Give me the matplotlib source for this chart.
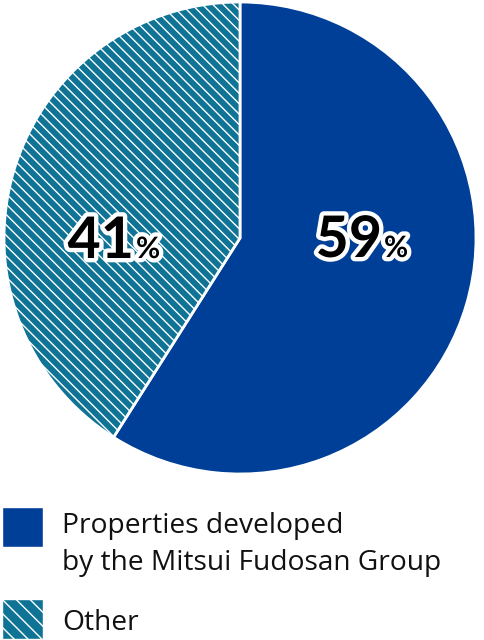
import matplotlib
matplotlib.use("Agg")
import matplotlib.pyplot as plt
import matplotlib.patheffects as pe
from matplotlib.patches import Rectangle

# data
labels = ["Properties developed\nby the Mitsui Fudosan Group", "Other"]
shares = [59, 41]
colors = ["#003f98", "#0f7396"]

plt.rcParams['hatch.linewidth'] = 0.8

DPI = 125
W, H = 484, 640
fig = plt.figure(figsize=(W / DPI, H / DPI), dpi=DPI)
ax = fig.add_axes([0, 0, 1, 1])


def Y(y):
    # pixel row (from top) -> data y
    return H - y


wedges, _ = ax.pie(shares, colors=colors, startangle=90, counterclock=False,
                   center=(240, Y(238)), radius=236,
                   wedgeprops=dict(edgecolor="white", linewidth=1.6))
wedges[1].set_hatch("\\\\\\\\")

ax.set_xlim(0, W)
ax.set_ylim(0, H)
ax.set_aspect("equal")
ax.axis("off")

# percentage labels
outline = [pe.withStroke(linewidth=5, foreground="white")]
num_pos = [(382, 257), (134, 258)]
for v, (x, y) in zip(shares, num_pos):
    ax.text(x, Y(y), str(v), ha="right", va="baseline", fontsize=33,
            family="Lato", fontweight="bold", color="black", path_effects=outline)
    ax.text(x + 2, Y(y), "%", ha="left", va="baseline", fontsize=17,
            family="Lato", fontweight="bold", color="black", path_effects=outline)

# legend
box_y = [507, 599]
for i, (lab, c) in enumerate(zip(labels, colors)):
    r = Rectangle((2, Y(box_y[i] + 40)), 41, 40, facecolor=c,
                  edgecolor="white", linewidth=0.8,
                  hatch="\\\\\\" if i == 1 else None)
    ax.add_patch(r)
text_lines = [(533, "Properties developed"), (570, "by the Mitsui Fudosan Group"), (630, "Other")]
for y, t in text_lines:
    ax.text(62, Y(y), t, ha="left", va="baseline", fontsize=16.2,
            family="Open Sans", color="#111111")

fig.savefig("out.png", dpi=DPI)
